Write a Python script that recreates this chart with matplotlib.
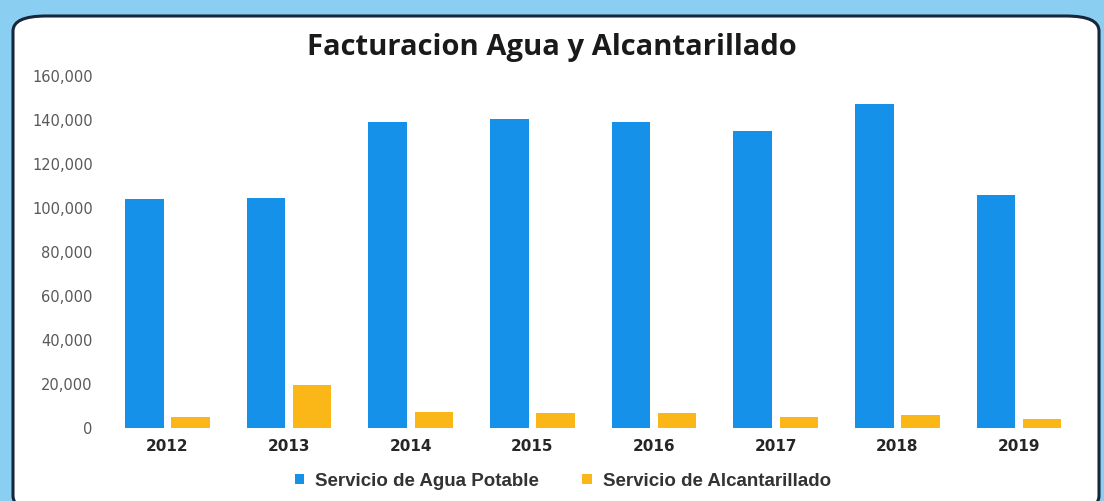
import matplotlib.pyplot as plt
import numpy as np
from matplotlib.patches import FancyBboxPatch

# data
years = ['2012', '2013', '2014', '2015', '2016', '2017', '2018', '2019']
agua_potable = [104100, 104500, 139100, 140500, 139100, 135000, 147300, 105900]
alcantarillado = [5000, 19500, 7300, 6800, 6800, 5000, 5900, 4100]
series_names = ['Servicio de Agua Potable', 'Servicio de Alcantarillado']
yticks = [0, 20000, 40000, 60000, 80000, 100000, 120000, 140000, 160000]

blue = '#1591ea'
orange = '#fbb718'

fig = plt.figure(figsize=(11.04, 5.01), dpi=100)
fig.patch.set_facecolor('#8acff2')

# white rounded panel with dark border, behind the axes
frame = FancyBboxPatch((13 / 1104, -0.02), 1086 / 1104, (501 - 16) / 501 + 0.02,
                       boxstyle='round,pad=0,rounding_size=0.03',
                       transform=fig.transFigure, facecolor='white',
                       edgecolor='#17263a', linewidth=2.2, zorder=-1)
fig.patches.append(frame)

ax = fig.add_axes([0.0966, 0.1457, 0.8816, 0.7023])
ax.set_facecolor('none')

x = np.arange(len(years))
w = 0.316
ax.bar(x - 0.19, agua_potable, w, color=blue, label=series_names[0])
ax.bar(x + 0.19, alcantarillado, w, color=orange, label=series_names[1])

ax.set_xlim(-0.5, len(years) - 0.5)
ax.set_ylim(0, 160000)
ax.set_yticks(yticks)
ax.set_yticklabels([f'{v:,}' for v in yticks], fontfamily='DejaVu Sans',
                   fontsize=10.5, color='#595959')
ax.set_xticks(x)
ax.set_xticklabels(years, fontfamily='DejaVu Sans', fontsize=11,
                   fontweight='bold', color='#262626')
ax.tick_params(axis='y', length=0, pad=10)
ax.tick_params(axis='x', length=0, pad=8)
for s in ax.spines.values():
    s.set_visible(False)

fig.text(0.5, 1 - 47 / 501, 'Facturacion Agua y Alcantarillado', ha='center', va='center',
         fontfamily='Open Sans', fontweight='bold', fontsize=21, color='#1a1a1a')

fig.legend(loc='center', bbox_to_anchor=(0.51, 1 - 481 / 501), ncol=2, frameon=False,
           prop={'family': 'Liberation Sans', 'size': 13.5, 'weight': 'bold'},
           labelcolor='#333333', handlelength=0.5, handleheight=0.5,
           handletextpad=0.6, columnspacing=2.3)

fig.savefig('out.png', dpi=100, facecolor=fig.get_facecolor())
